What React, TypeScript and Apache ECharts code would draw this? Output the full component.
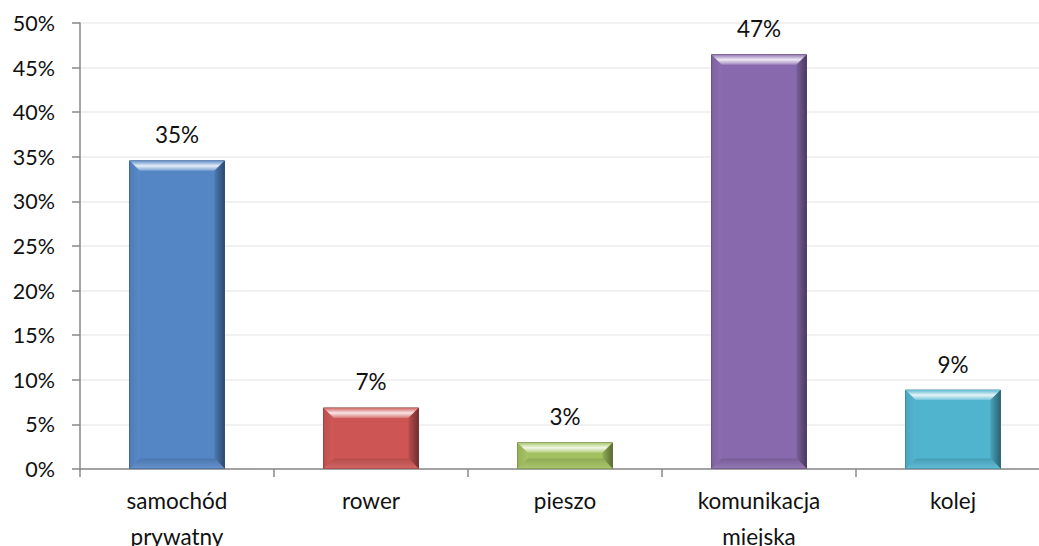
import React, { useEffect, useRef } from "react";
import * as echarts from "echarts";

const categories = ["samochód\nprywatny", "rower", "pieszo", "komunikacja\nmiejska", "kolej"];
const values = [34.6, 6.9, 3.0, 46.5, 8.9];
const colors = ["#5486C6", "#CD5654", "#A2C15E", "#8869AD", "#50B4CE"];
const yTicks = { min: 0, max: 50, interval: 5 };

function shade(hex: string, amt: number): string {
  // amt > 0 mixes toward white, amt < 0 mixes toward black
  const n = parseInt(hex.slice(1), 16);
  const ch = [(n >> 16) & 255, (n >> 8) & 255, n & 255].map((c) =>
    Math.round(amt >= 0 ? c + (255 - c) * amt : c * (1 + amt))
  );
  return "rgb(" + ch.join(",") + ")";
}

export default function App() {
  const ref = useRef<HTMLDivElement>(null);
  useEffect(() => {
    const chart = echarts.init(ref.current!, null, { renderer: "svg" });
    const font = "Lato, 'Open Sans', sans-serif";
    chart.setOption({
      animation: false,
      grid: { left: 80, right: -11, top: 23, bottom: 77, containLabel: false, outerBoundsMode: "none" },
      xAxis: {
        type: "category",
        data: categories,
        axisLine: { lineStyle: { color: "#888888", width: 1.5 } },
        axisTick: { show: true, length: 8, lineStyle: { color: "#888888", width: 1.5 } },
        axisLabel: { color: "#111111", fontSize: 22.5, fontFamily: font, margin: 13, lineHeight: 36 },
      },
      yAxis: {
        type: "value",
        min: yTicks.min,
        max: yTicks.max,
        interval: yTicks.interval,
        axisLine: { show: true, lineStyle: { color: "#888888", width: 1.5 } },
        axisTick: { show: true, length: 8, lineStyle: { color: "#888888", width: 1.5 } },
        axisLabel: { color: "#111111", fontSize: 21.5, fontFamily: font, margin: 25, formatter: "{value}%" },
        splitLine: { lineStyle: { color: "#ececec", width: 1.5 } },
      },
      series: [
        {
          type: "bar",
          barWidth: 96,
          data: values.map((v, i) => ({
            value: v,
            itemStyle: {
              color: colors[i],
              borderColor: shade(colors[i], -0.35),
              borderWidth: 1,
            },
          })),
          label: {
            show: true,
            position: "top",
            distance: 14,
            color: "#111111",
            fontSize: 22.5,
            fontFamily: font,
            formatter: (p: any) => Math.round(p.value) + "%",
          },
          z: 2,
        },
        {
          type: "custom",
          silent: true,
          z: 3,
          data: values.map((v, i) => [i, v]),
          renderItem: (params: any, api: any) => {
            const idx = api.value(0);
            const v = api.value(1);
            const top = api.coord([idx, v]);
            const bot = api.coord([idx, 0]);
            const w = 96;
            const x0 = top[0] - w / 2 + 0.5;
            const x1 = top[0] + w / 2 - 0.5;
            const y0 = top[1] + 0.5;
            const y1 = bot[1] - 0.5;
            const b = Math.min(10, (y1 - y0) / 2.5);
            const c = colors[idx];
            return {
              type: "group",
              children: [
                {
                  type: "polygon",
                  shape: { points: [[x0, y0], [x1, y0], [x1 - b, y0 + b], [x0 + b, y0 + b]] },
                  style: {
                    fill: new echarts.graphic.LinearGradient(0, 0, 0, 1, [
                      { offset: 0, color: shade(c, 0.1) },
                      { offset: 0.5, color: shade(c, 0.85) },
                      { offset: 1, color: shade(c, 0.2) },
                    ]),
                  },
                },
                {
                  type: "polygon",
                  shape: { points: [[x1, y0], [x1, y1], [x1 - b, y1 - b], [x1 - b, y0 + b]] },
                  style: {
                    fill: new echarts.graphic.LinearGradient(0, 0, 1, 0, [
                      { offset: 0, color: shade(c, -0.1) },
                      { offset: 1, color: shade(c, -0.45) },
                    ]),
                  },
                },
                {
                  type: "polygon",
                  shape: { points: [[x0, y1], [x1, y1], [x1 - b, y1 - b], [x0 + b, y1 - b]] },
                  style: {
                    fill: new echarts.graphic.LinearGradient(0, 0, 0, 1, [
                      { offset: 0, color: shade(c, -0.12) },
                      { offset: 1, color: shade(c, 0.1) },
                    ]),
                  },
                },
                {
                  type: "polygon",
                  shape: { points: [[x0, y0], [x0 + b, y0 + b], [x0 + b, y1 - b], [x0, y1]] },
                  style: {
                    fill: new echarts.graphic.LinearGradient(0, 0, 1, 0, [
                      { offset: 0, color: shade(c, -0.08) },
                      { offset: 1, color: shade(c, 0.03) },
                    ]),
                  },
                },
              ],
            };
          },
        },
      ],
    });
    return () => chart.dispose();
  }, []);
  return (
    <div
      ref={ref}
      style={{ position: "absolute", left: 0, top: 0, width: 1039, height: 546 }}
    />
  );
}
